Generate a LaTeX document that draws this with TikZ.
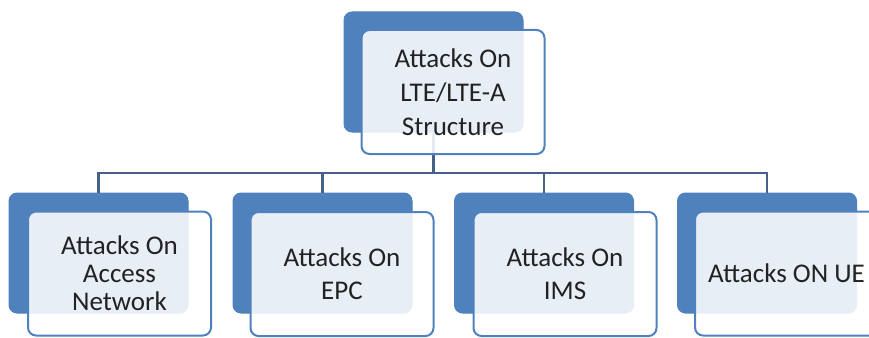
\documentclass[tikz,border=0pt]{standalone}
\usepackage{fontspec}
\setmainfont{Carlito}
\definecolor{boxblue}{HTML}{4F81BD}
\definecolor{linecol}{HTML}{46608A}
\definecolor{txt}{HTML}{222222}
\begin{document}
\begin{tikzpicture}[x=1pt,y=-1pt,
  backbox/.style={draw=boxblue, fill=boxblue, rounded corners=8pt, minimum width=179pt, minimum height=120pt, inner sep=0pt, line width=1pt},
  frontbox/.style={draw=boxblue, line width=2pt, fill=white, fill opacity=0.87, text opacity=1, rounded corners=8pt, minimum width=183pt, minimum height=124pt, inner sep=2pt, align=center, text=txt, font=\fontsize{27}{30}\selectfont},
  conn/.style={draw=linecol, line width=2.5pt}]
\useasboundingbox (0,0) rectangle (869,337);
\clip (0,0) rectangle (869,337);
% back boxes
\node[backbox] (tb) at (433.5,72) {};
\node[backbox] (b1) at (98.5,253) {};
\node[backbox] (b2) at (322.5,253) {};
\node[backbox] (b3) at (544,253) {};
\node[backbox] (b4) at (767,253) {};
% connectors
\coordinate (bus) at (0,173);
\draw[conn] (tb.south) -- (tb.south |- bus);
\draw[conn] (b1.north) -- (b1.north |- bus) -- (b4.north |- bus) -- (b4.north);
\draw[conn] (b2.north) -- (b2.north |- bus);
\draw[conn] (b3.north) -- (b3.north |- bus);
% front boxes
\node[frontbox, font=\fontsize{27}{34}\selectfont] (tf) at (453,92) {\raisebox{-6pt}{\parbox{170pt}{\centering Attacks On\\LTE/LTE-A\\Structure}}};
\node[frontbox, font=\fontsize{27}{28}\selectfont] (f1) at (119.5,273.5) {Attacks On\\Access\\Network};
\node[frontbox, font=\fontsize{27}{33}\selectfont] (f2) at (342,274) {Attacks On\\EPC};
\node[frontbox, font=\fontsize{27}{33}\selectfont] (f3) at (565,274) {Attacks On\\IMS};
\node[frontbox] (f4) at (786.5,273.5) {Attacks ON UE};
\end{tikzpicture}
\end{document}
